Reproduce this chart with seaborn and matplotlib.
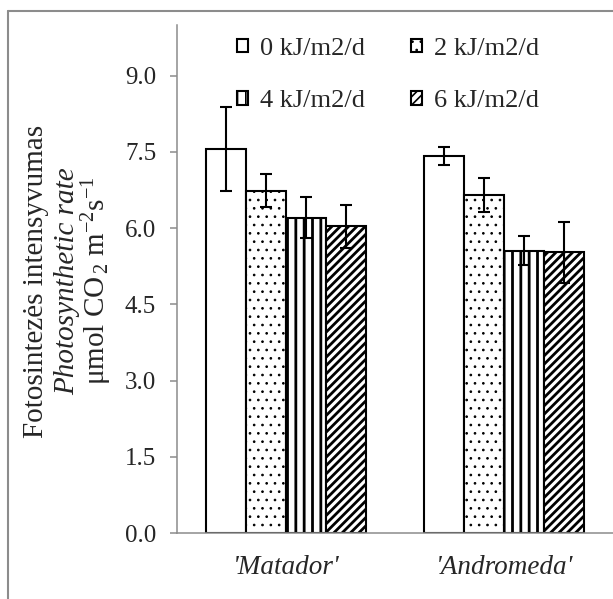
import numpy as np
import pandas as pd
import seaborn as sns
import matplotlib.pyplot as plt
from matplotlib.lines import Line2D

# Data
cultivars = ["'Matador'", "'Andromeda'"]
doses = ["0 kJ/m2/d", "2 kJ/m2/d", "4 kJ/m2/d", "6 kJ/m2/d"]
matador = [7.56, 6.74, 6.21, 6.04]
andromeda = [7.42, 6.65, 5.56, 5.53]
matador_err = [0.83, 0.32, 0.40, 0.42]
andromeda_err = [0.18, 0.33, 0.29, 0.60]
yticks = [0.0, 1.5, 3.0, 4.5, 6.0, 7.5, 9.0]

sns.set_style("white")
plt.rcParams['font.family'] = ['Liberation Serif', 'DejaVu Serif']
plt.rcParams['mathtext.fontset'] = 'custom'
plt.rcParams['mathtext.rm'] = 'Liberation Serif'
plt.rcParams['mathtext.it'] = 'Liberation Serif:italic'
plt.rcParams['hatch.linewidth'] = 2.0
plt.rcParams['hatch.color'] = 'black'

df = pd.DataFrame({
    'cultivar': np.repeat(cultivars, len(doses)),
    'dose': doses * len(cultivars),
    'value': matador + andromeda,
    'err': matador_err + andromeda_err,
})

fig = plt.figure(figsize=(6.13, 5.99), dpi=100)
ax = fig.add_axes([177 / 613, 1 - 533 / 599, 436 / 613, 508 / 599])

sns.barplot(data=df, x='cultivar', y='value', hue='dose', order=cultivars,
            hue_order=doses, errorbar=None, width=0.734,
            palette=['white'] * 4, edgecolor='black', linewidth=1.5,
            legend=False, ax=ax)

hatches = ['', '..', '||', '////']
hatch_lw = [1.0, 0.7, 2.0, 2.0]
for cont, h, hl, d in zip(ax.containers, hatches, hatch_lw, doses):
    errs = df[df['dose'] == d].set_index('cultivar').loc[cultivars, 'err'].values
    xs = []
    ys = []
    for bar in cont.patches:
        bar.set_hatch(h)
        if hasattr(bar, 'set_hatch_linewidth'):
            bar.set_hatch_linewidth(hl)
        xs.append(bar.get_x() + bar.get_width() / 2)
        ys.append(bar.get_height())
    ax.errorbar(xs, ys, yerr=errs, fmt='none', ecolor='black', elinewidth=1.5,
                capsize=4, capthick=1.5, zorder=5)

ax.set_ylim(0, 10)
ax.set_xlim(-0.5, 1.5)
ax.set_yticks(yticks)
ax.set_yticklabels([f"{v:.1f}" for v in yticks])
ax.set_xticks([-0.5, 0.5, 1.5])
ax.set_xticklabels([])
ax.set_xticks([0, 1], minor=True)
ax.set_xticklabels(cultivars, minor=True, fontstyle='italic')
ax.tick_params(axis='x', which='minor', length=0, pad=16, labelsize=19.5)
ax.tick_params(axis='x', which='major', length=5, width=1.1, color='#8c8c8c', direction='out')
ax.tick_params(axis='y', length=5, width=1.1, color='#8c8c8c', direction='out',
               pad=10, labelsize=18, left=True)
ax.set_xlabel('')
ax.set_ylabel('')
sns.despine(ax=ax)
for s in ['left', 'bottom']:
    ax.spines[s].set_color('#8c8c8c')
    ax.spines[s].set_linewidth(1.1)

# legend, filled row by row like the original
conts = list(ax.containers)
order = [0, 2, 1, 3]
leg = ax.legend(handles=[conts[i] for i in order], labels=[doses[i] for i in order],
                ncol=2, frameon=False, fontsize=19, loc='upper left',
                bbox_to_anchor=(237 / 613, 1 - 38 / 599),
                bbox_transform=fig.transFigure, borderaxespad=0, borderpad=0,
                handlelength=0.42, handleheight=0.42, handletextpad=0.45,
                columnspacing=1.75, labelspacing=1.15)
for hnd, i in zip(leg.legend_handles, order):
    if hasattr(hnd, 'set_hatch_linewidth'):
        hnd.set_hatch_linewidth(min(hatch_lw[i], 1.2))

# y axis title, three lines
yc = 1 - 281 / 599
fig.text(36 / 613, yc, 'Fotosintezės intensyvumas', rotation=90, ha='center',
         va='center', fontsize=21)
fig.text(67 / 613, yc, 'Photosynthetic rate', rotation=90, ha='center',
         va='center', fontsize=21, fontstyle='italic')
fig.text(97 / 613, yc, r'μmol CO$_{\,2}$ m$^{-2}$s$^{-1}$', rotation=90,
         ha='center', va='center', fontsize=21)

# chart area border (left and top visible)
fig.add_artist(Line2D([8 / 613, 8 / 613], [0, 1 - 11 / 599], color='#8c8c8c',
                      lw=1.5, transform=fig.transFigure))
fig.add_artist(Line2D([8 / 613, 1], [1 - 11 / 599, 1 - 11 / 599], color='#8c8c8c',
                      lw=1.5, transform=fig.transFigure))

fig.savefig('out.png', dpi=100)
